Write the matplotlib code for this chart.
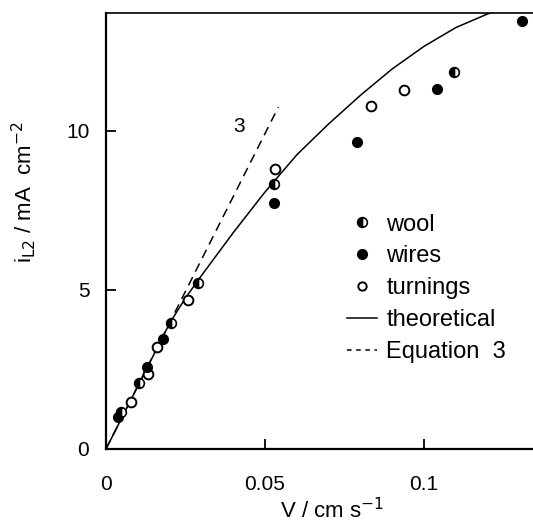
import matplotlib
matplotlib.use("Agg")
import matplotlib.pyplot as plt
from matplotlib.lines import Line2D

plt.rcParams['font.family'] = ['Liberation Sans', 'DejaVu Sans']

# data
wool_v = [0.0046, 0.0105, 0.0203, 0.029, 0.0529, 0.1095]
wool_i = [1.15, 2.07, 3.95, 5.21, 8.33, 11.86]

wires_v = [0.0038, 0.0128, 0.018, 0.0527, 0.079, 0.104, 0.1307]
wires_i = [1.02, 2.57, 3.46, 7.72, 9.65, 11.31, 13.46]

turn_v = [0.0078, 0.0133, 0.0161, 0.0259, 0.0531, 0.0834, 0.0937]
turn_i = [1.47, 2.35, 3.2, 4.7, 8.8, 10.8, 11.28]

theo_v = [0, 0.01, 0.02, 0.025, 0.03, 0.04, 0.05, 0.06, 0.07, 0.08, 0.09, 0.10, 0.11, 0.12, 0.13]
theo_i = [0, 1.97, 3.95, 4.75, 5.45, 6.8, 8.08, 9.25, 10.22, 11.12, 11.95, 12.66, 13.25, 13.68, 14.0]

eq3_v = [0, 0.0542]
eq3_i = [0, 10.75]

fig = plt.figure(figsize=(5.33, 5.24), dpi=100)
ax = fig.add_axes([106 / 533, 1 - 449 / 524, 427 / 533, 436 / 524])

ax.plot(theo_v, theo_i, color='black', lw=1.1)
ax.plot(eq3_v, eq3_i, color='black', lw=1.1, dashes=(6, 4))

ms = 7
ax.plot(turn_v, turn_i, 'o', ms=ms, mfc='white', mec='black', mew=1.4)
ax.plot(wires_v, wires_i, 'o', ms=ms, mfc='black', mec='black')
ax.plot(wool_v, wool_i, 'o', ms=ms, fillstyle='left', mfc='black',
        mfcalt='white', mec='black', mew=1.2)

ax.text(0.0418, 10.15, '3', fontsize=15, ha='center', va='center')

ax.set_xlim(0, 0.1343)
ax.set_ylim(0, 13.71)
ax.set_xticks([0, 0.05, 0.1])
ax.set_xticklabels(['0', '0.05', '0.1'])
ax.set_yticks([0, 5, 10])
ax.set_yticklabels(['0', '5', '10'])
ax.tick_params(direction='in', length=7, width=1.3, labelsize=15)
ax.tick_params(axis='x', pad=19)
ax.tick_params(axis='y', pad=12)
ax.spines['left'].set_linewidth(1.6)
ax.spines['bottom'].set_linewidth(1.6)
ax.spines['top'].set_linewidth(1.2)
ax.spines['right'].set_linewidth(0.6)

ax.set_xlabel(r'V / cm s$^{-1}$', fontsize=16)
ax.xaxis.set_label_coords(0.529, -0.112)
ax.set_ylabel(r'i$_{\mathrm{L2}}$ / mA  cm$^{-2}$', fontsize=16)
ax.yaxis.set_label_coords(-0.16, 0.59)

handles = [
    Line2D([], [], ls='none', marker='o', ms=ms, fillstyle='left', mfc='black',
           mfcalt='white', mec='black', mew=1.2),
    Line2D([], [], ls='none', marker='o', ms=ms, mfc='black', mec='black'),
    Line2D([], [], ls='none', marker='o', ms=ms - 1, mfc='white', mec='black', mew=1.4),
    Line2D([], [], color='black', lw=1.1),
    Line2D([], [], color='black', lw=1.1, dashes=(3, 3)),
]
labels = ['wool', 'wires', 'turnings', 'theoretical', 'Equation  3']
ax.legend(handles, labels, loc='upper left', bbox_to_anchor=(0.565, 0.54),
          frameon=False, fontsize=17, handlelength=1.25, handletextpad=0.4,
          labelspacing=0.42, borderpad=0, borderaxespad=0)

fig.savefig('out.png', dpi=100)
